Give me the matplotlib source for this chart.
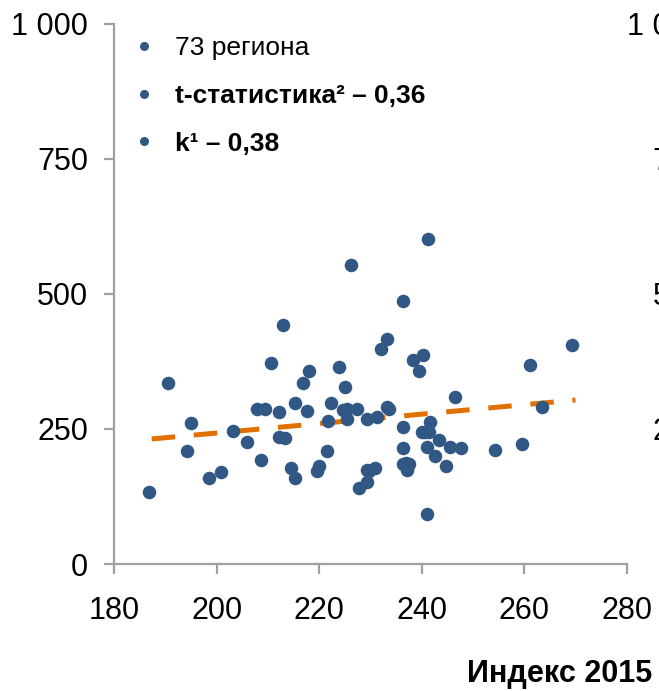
import matplotlib
matplotlib.use("Agg")
import matplotlib.pyplot as plt
from matplotlib.lines import Line2D

plt.rcParams['font.family'] = ['Liberation Sans', 'DejaVu Sans']

# Data
index_2015 = [226.2, 212.9, 210.5, 190.4, 218.0, 216.8, 223.8, 225.0, 232.1, 207.8,
              209.4, 212.2, 215.3, 217.6, 222.3, 224.6, 225.4, 225.4, 227.3, 221.8,
              229.3, 231.25, 195.0, 203.2, 212.2, 213.4, 205.9, 194.2, 221.5, 208.65,
              214.45, 215.25, 219.9, 219.5, 200.8, 198.5, 186.8, 229.3, 230.9, 229.3,
              227.75, 241.3, 236.25, 233.2, 269.4, 261.2, 238.2, 240.2, 239.4, 246.4,
              263.5, 233.2, 233.7, 236.3, 241.7, 240.0, 240.6, 243.3, 236.3, 241.0,
              245.6, 247.6, 242.5, 244.8, 254.2, 259.6, 236.3, 237.5, 237.1, 241.0,
              241.5, 237.0, 229.8]
values = [553.2, 442.7, 372.4, 335.4, 357.6, 335.4, 365.0, 328.0, 398.7, 287.3,
          287.3, 280.3, 298.4, 283.6, 298.4, 284.4, 286.2, 268.8, 287.3, 265.1,
          268.8, 272.5, 261.4, 246.6, 235.5, 232.2, 224.8, 209.6, 209.6, 191.9,
          177.1, 158.6, 180.4, 172.4, 169.7, 158.6, 132.7, 173.0, 177.1, 151.2,
          140.1, 601.3, 486.6, 416.8, 405.7, 368.7, 376.9, 387.2, 357.6, 309.0,
          291.0, 291.0, 287.3, 254.0, 262.2, 243.3, 243.3, 228.5, 214.1, 217.0,
          217.0, 213.7, 199.4, 180.4, 210.4, 221.5, 184.5, 184.5, 173.9, 92.5,
          243.3, 186.0, 172.0]
trend_x = [187.3, 270.0]
trend_y = [231.3, 303.4]

x_ticks = [180, 200, 220, 240, 260, 280]
y_ticks = [0, 250, 500, 750, 1000]
y_tick_labels = ['0', '250', '500', '750', '1 000']
legend_labels = ['73 региона', 't-статистика² – 0,36', 'k¹ – 0,38']
x_label = 'Индекс 2015'

navy = '#315784'
orange = '#E07000'
gray = '#A0A0A0'

fig = plt.figure(figsize=(6.59, 6.91), dpi=100)
W, H = 659, 691
ax = fig.add_axes([114.3 / W, 1 - 564 / H, 512.4 / W, 540.5 / H])

ax.scatter(index_2015, values, s=95, color=navy, linewidths=0, zorder=3)
ax.plot(trend_x, trend_y, color=orange, lw=3.6, dashes=(4.7, 3.75),
        solid_capstyle='butt', dash_capstyle='butt', zorder=2)

ax.set_xlim(180, 280)
ax.set_ylim(0, 1000)
ax.set_xticks(x_ticks)
ax.set_yticks(y_ticks)
ax.set_yticklabels(y_tick_labels)
for s in ['top', 'right']:
    ax.spines[s].set_visible(False)
for s in ['left', 'bottom']:
    ax.spines[s].set_color(gray)
    ax.spines[s].set_linewidth(1.6)
ax.tick_params(axis='both', colors=gray, width=1.6, length=7, labelsize=22,
               labelcolor='black')
ax.tick_params(axis='y', pad=12)
ax.tick_params(axis='x', pad=16)

ax.set_xlabel(x_label, fontsize=22, fontweight='bold', loc='right')
ax.xaxis.set_label_coords(1.049, -0.175)

handles = [Line2D([], [], marker='o', ls='', color=navy, ms=5.5) for _ in legend_labels]
leg = ax.legend(handles, legend_labels, loc='upper left',
                bbox_to_anchor=(0.0317, 0.9765), frameon=False, fontsize=19,
                labelspacing=0.9, handletextpad=0.68, handlelength=1.0,
                borderaxespad=0.0, borderpad=0.0)
for t in leg.get_texts()[1:]:
    t.set_fontweight('bold')

# neighbouring panel, cut off at the figure's right edge
ax2 = fig.add_axes([730 / W, 1 - 564 / H, 300 / W, 540.5 / H])
ax2.set_ylim(0, 1000)
ax2.set_yticks(y_ticks)
ax2.set_yticklabels(y_tick_labels)
ax2.set_xticks([])
for s in ['top', 'right', 'bottom']:
    ax2.spines[s].set_visible(False)
ax2.spines['left'].set_color(gray)
ax2.tick_params(axis='y', colors=gray, width=1.6, length=7, labelsize=22,
                labelcolor='black', pad=12)

fig.savefig('out.png', dpi=100)
